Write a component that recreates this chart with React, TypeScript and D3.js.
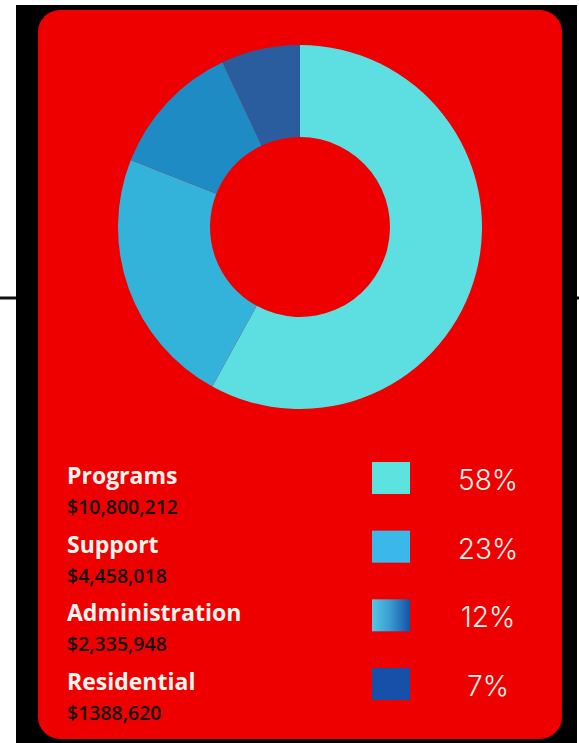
import React from "react";
import * as d3 from "d3";

const categories = ["Programs", "Support", "Administration", "Residential"];
const amounts = ["$10,800,212", "$4,458,018", "$2,335,948", "$1388,620"];
const percents = [58, 23, 12, 7];
const sliceColors = ["#5ddfe2", "#33b2da", "#1f8bc4", "#2a5d9e"];
const swatchColors = ["#5ce3e0", "#3ab8ea", "url(#adminGrad)", "#1650a8"];

const W = 579;
const H = 743;

export default function App() {
  const cx = 300;
  const cy = 227;
  const pie = d3
    .pie<number>()
    .sort(null)
    .value((d) => d)
    .startAngle(0)
    .endAngle(2 * Math.PI);
  const arcs = pie(percents);
  const arc = d3.arc<d3.PieArcDatum<number>>().innerRadius(90).outerRadius(182);

  const row = d3.scalePoint<string>().domain(categories).range([462, 668]);

  return (
    <svg
      width={W}
      height={H}
      style={{ position: "absolute", left: 0, top: 0, display: "block" }}
    >
      <defs>
        <linearGradient id="adminGrad" x1="0" x2="1" y1="0" y2="0">
          <stop offset="0" stopColor="#56c6e4" />
          <stop offset="0.45" stopColor="#3a9fd2" />
          <stop offset="1" stopColor="#1553a6" />
        </linearGradient>
      </defs>
      <rect x={0} y={0} width={W} height={H} fill="#ffffff" />
      <line x1={0} x2={W} y1={298} y2={298} stroke="#111" strokeWidth={3} />
      <rect x={16} y={5} width={561} height={H - 5} fill="#000" />
      <rect x={38} y={10} width={524} height={729} rx={22} ry={22} fill="#ee0000" />

      <g transform={`translate(${cx},${cy})`}>
        {arcs.map((a, i) => (
          <path key={categories[i]} d={arc(a) || ""} fill={sliceColors[i]} />
        ))}
      </g>

      {categories.map((c, i) => {
        const top = row(c) as number;
        return (
          <g key={c}>
            <text
              x={67}
              y={top + 22}
              fill="#fff4ee"
              fontFamily="'Open Sans', sans-serif"
              fontWeight={700}
              fontSize={23}
            >
              {c}
            </text>
            <text
              x={67}
              y={top + 52}
              fill="#111"
              fontFamily="'Open Sans', sans-serif"
              fontWeight={600}
              fontSize={19.5}
            >
              {amounts[i]}
            </text>
            <rect x={372} y={top} width={38} height={32} fill={swatchColors[i]} />
            <text
              x={488}
              y={top + 28}
              textAnchor="middle"
              fill="#fff4ee"
              fontFamily="Inter, sans-serif"
              fontWeight={300}
              fontSize={28}
            >
              {percents[i] + "%"}
            </text>
          </g>
        );
      })}
    </svg>
  );
}
